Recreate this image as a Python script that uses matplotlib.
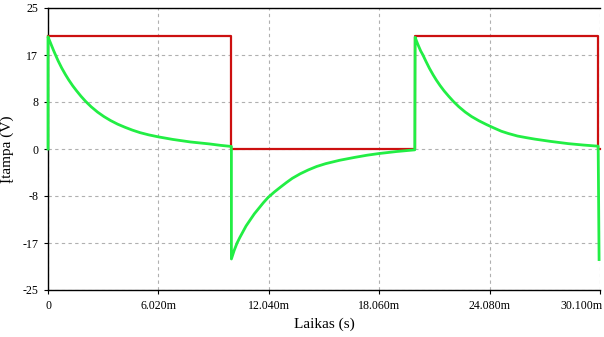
import matplotlib
matplotlib.use("Agg")
import matplotlib.pyplot as plt
import matplotlib.transforms as mtransforms

# Square-wave input (time in ms, volts)
red_t = [0.0, 10.0, 10.0, 20.0, 20.0, 30.0, 30.0, 30.1]
red_v = [20.0, 20.0, 0.0, 0.0, 20.0, 20.0, 0.0, 0.0]

# Output across resistor (time in ms, volts)
green_t = [0.0, 0.0, 0.1, 0.2, 0.3, 0.4, 0.55, 0.75, 0.95, 1.13, 1.35, 1.55, 1.8, 2.05, 2.35, 2.7,
           3.05, 3.41, 3.8, 4.2, 4.6, 5.02, 5.5, 6.02, 6.8, 7.76, 8.8, 9.4, 10.0,
           10.0, 10.15, 10.31, 10.45, 10.6, 10.8, 11.04, 11.25, 11.5, 11.75, 12.0, 12.35, 12.7,
           13.0, 13.32, 13.75, 14.2, 14.65, 15.14, 15.9, 16.7, 17.4, 18.06, 19.0, 20.0,
           20.02, 20.1, 20.2, 20.32, 20.44, 20.6, 20.8, 21.0, 21.17, 21.38, 21.6, 21.85, 22.1,
           22.4, 22.75, 23.1, 23.5, 23.9, 24.3, 24.72, 25.1, 25.6, 26.1, 26.55, 27.4, 28.37,
           29.2, 30.0, 30.05]
green_v = [0.0, 19.9, 19.1, 18.3, 17.5, 16.75, 15.65, 14.35, 13.2, 12.25, 11.2, 10.35, 9.35, 8.45, 7.5, 6.55,
           5.75, 5.05, 4.4, 3.85, 3.35, 2.9, 2.5, 2.15, 1.7, 1.25, 0.9, 0.65, 0.45,
           -19.5, -18.0, -16.67, -15.75, -14.85, -13.65, -12.5, -11.5, -10.5, -9.5, -8.6, -7.6, -6.7,
           -5.95, -5.2, -4.4, -3.7, -3.1, -2.6, -2.0, -1.5, -1.1, -0.8, -0.45, -0.15,
           19.8, 19.1, 18.3, 17.4, 16.7, 15.6, 14.3, 13.15, 12.25, 11.25, 10.3, 9.35, 8.45,
           7.5, 6.55, 5.75, 5.0, 4.35, 3.75, 3.15, 2.75, 2.3, 2.0, 1.75, 1.35, 0.95,
           0.7, 0.5, -19.6]

x_ticks = [0.0, 6.02, 12.04, 18.06, 24.08, 30.1]
x_tick_labels = ["0", "6.020m", "12.040m", "18.060m", "24.080m", "30.100m"]
y_ticks = [-25.0, -50/3, -25/3, 0.0, 25/3, 50/3, 25.0]
y_tick_labels = ["-25", "-17", "-8", "0", "8", "17", "25"]

plt.rcParams['font.family'] = ['Liberation Serif', 'DejaVu Serif']

fig = plt.figure(figsize=(6.04, 3.37), dpi=100)
ax = fig.add_axes([48/604, 1-290/337, 552/604, 282/337])

ax.plot(red_t, red_v, color='#cc1010', lw=1.6, zorder=3, clip_on=False)
ax.plot(green_t, green_v, color='#22ee44', lw=2.0, zorder=4, clip_on=False,
        solid_joinstyle='round')

ax.set_xlim(0, 30.1)
ax.set_ylim(-25, 25)
ax.set_xticks(x_ticks)
ax.set_xticklabels(x_tick_labels, fontsize=8.6)
ax.set_yticks(y_ticks)
ax.set_yticklabels(y_tick_labels, fontsize=8.6)
ax.tick_params(direction='out', length=3, width=0.8, color='black', pad=4)
last = ax.get_xticklabels()[-1]
last.set_horizontalalignment('right')
last.set_transform(last.get_transform() + mtransforms.ScaledTranslation(3/100, 0, fig.dpi_scale_trans))

ax.grid(True, color='#b0b0b0', linestyle=(0, (3, 3)), linewidth=0.8)
for s in ['top', 'left', 'bottom']:
    ax.spines[s].set_color('black')
    ax.spines[s].set_linewidth(1.0)
ax.spines['right'].set_visible(False)

ax.set_xlabel("Laikas (s)", fontsize=11, labelpad=4)
ax.set_ylabel("Įtampa (V)", fontsize=11, labelpad=6)

fig.savefig("out.png", dpi=100)
